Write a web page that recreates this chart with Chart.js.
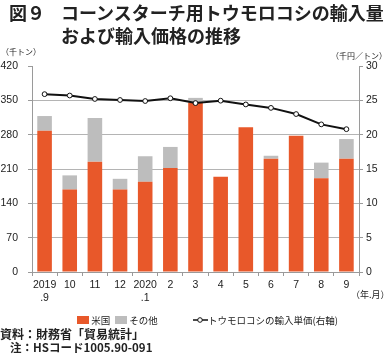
<!DOCTYPE html>
<html>
<head>
<meta charset="utf-8">
<script src="https://cdn.jsdelivr.net/npm/chart.js@4"></script>
<style>
  body { margin: 0; background: #fff; font-family: "Noto Sans CJK JP", sans-serif; color: #222; }
  #wrap { position: relative; width: 387px; height: 354px; overflow: hidden; }
  #c { position: absolute; left: 0; top: 0; }
  .t { position: absolute; white-space: nowrap; line-height: 1.2; }
  .title { font-size: 18px; font-weight: bold; line-height: 23px; }
  .unit { font-size: 8px; }
  .legend { font-size: 9.5px; top: 315px; }
  .sw { display: inline-block; width: 12px; height: 8px; vertical-align: -0px; }
  .note { font-size: 12px; font-weight: bold; }
</style>
</head>
<body>
<div id="wrap">
  <canvas id="c" width="387" height="354"></canvas>
  <div class="t title" style="left:9px; top:1px;">図９</div>
  <div class="t title" style="left:61px; top:1px;">コーンスターチ用トウモロコシの輸入量</div>
  <div class="t title" style="left:61px; top:24px;">および輸入価格の推移</div>
  <div class="t unit" style="left:1px; top:47px;">（千トン）</div>
  <div class="t unit" style="left:331px; top:51px;">（千円／トン）</div>
  <div class="t unit" style="left:351px; top:290px; font-size:9px;">（年.月）</div>
  <div class="t legend" style="left:77px;"><span class="sw" style="background:#e8582a;"></span> 米国</div>
  <div class="t legend" style="left:115px;"><span class="sw" style="background:#bdbdbd;"></span> その他</div>
  <div class="t legend" style="left:193px;">
    <svg width="15" height="8" style="vertical-align:0px;"><line x1="0" y1="4" x2="15" y2="4" stroke="#111" stroke-width="1.5"/><circle cx="7" cy="4" r="2.3" fill="#fff" stroke="#111" stroke-width="1"/></svg>トウモロコシの輸入単価(右軸)</div>
  <div class="t note" style="left:0px; top:327px;">資料：財務省「貿易統計」</div>
  <div class="t note" style="left:10px; top:341px; font-weight:600; font-size:11.5px;">注：HSコード1005.90-091</div>
</div>
<script>
// 年.月
const months = [['2019', '.9'], '10', '11', '12', ['2020', '.1'], '2', '3', '4', '5', '6', '7', '8', '9'];
// 輸入量（千トン）
const usVolume    = [288, 168, 225, 168, 184, 212, 345, 194, 295, 231, 278, 191, 231];
const otherVolume = [30, 29, 89, 22, 52, 43, 10, 0, 0, 6, 0, 32, 40];
// 輸入単価（千円／トン）
const unitPrice   = [25.9, 25.7, 25.2, 25.05, 24.9, 25.3, 24.6, 24.95, 24.4, 23.9, 23.0, 21.5, 20.8];

const tickFont = { family: 'Liberation Sans, Arial, sans-serif', size: 10.5 };
const tickColor = '#222';
const axisGray = '#9a9a9a';

new Chart(document.getElementById('c'), {
  data: {
    labels: months,
    datasets: [
      {
        type: 'line',
        label: 'トウモロコシの輸入単価(右軸)',
        data: unitPrice,
        yAxisID: 'y2',
        borderColor: '#111',
        borderWidth: 2,
        pointRadius: 2.4,
        pointBorderWidth: 1,
        pointBackgroundColor: '#fff',
        pointBorderColor: '#111',
        tension: 0,
        order: 0,
      },
      {
        type: 'bar',
        label: '米国',
        data: usVolume,
        yAxisID: 'y',
        backgroundColor: '#e8582a',
        barPercentage: 0.58,
        categoryPercentage: 1,
        order: 1,
      },
      {
        type: 'bar',
        label: 'その他',
        data: otherVolume,
        yAxisID: 'y',
        backgroundColor: '#bdbdbd',
        barPercentage: 0.58,
        categoryPercentage: 1,
        order: 1,
      },
    ],
  },
  options: {
    responsive: false,
    animation: false,
    layout: { padding: { top: 66, left: 0, right: 0, bottom: 0 } },
    plugins: { legend: { display: false }, tooltip: { enabled: false } },
    scales: {
      x: {
        stacked: true,
        offset: true,
        grid: { offset: true, drawOnChartArea: false, drawTicks: true, tickLength: 4, tickColor: axisGray },
        border: { color: axisGray },
        ticks: { color: tickColor, font: { ...tickFont, lineHeight: 1.2 }, padding: 3, maxRotation: 0, autoSkip: false },
        afterFit: (s) => { s.height = 82; },
      },
      y: {
        stacked: true,
        min: 0,
        max: 420,
        ticks: { stepSize: 70, color: tickColor, font: tickFont, padding: 10 },
        grid: {
          color: (ctx) => (ctx.tick && ctx.tick.value === 420 ? 'rgba(0,0,0,0)' : '#b4b4b4'),
          tickColor: axisGray,
          tickLength: 4,
        },
        border: { color: axisGray },
        afterFit: (s) => { s.width = 32; },
      },
      y2: {
        position: 'right',
        min: 0,
        max: 30,
        ticks: { stepSize: 5, color: tickColor, font: tickFont, padding: 3 },
        grid: { drawOnChartArea: false, tickColor: axisGray, tickLength: 4 },
        border: { color: axisGray },
        afterFit: (s) => { s.width = 28; },
      },
    },
  },
});
</script>
</body>
</html>
